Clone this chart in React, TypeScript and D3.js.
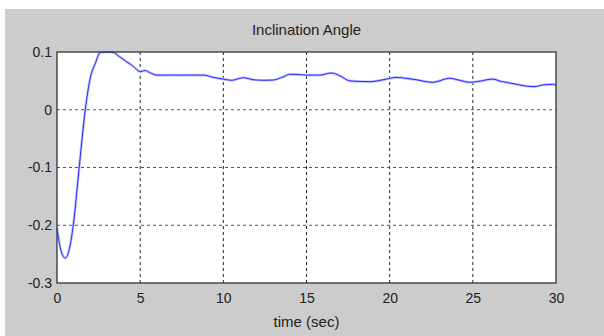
import React, { useEffect, useRef } from "react";
import * as d3 from "d3";

// time axis (sec) and angle readings
const timeSec = [0, 0.25, 0.5, 0.75, 1.0, 1.3, 1.7, 2.0, 2.3, 2.6, 3.0, 3.3, 3.8, 4.2, 4.6, 5.0, 5.3, 5.6, 6.0, 7.0, 8.0, 8.8, 9.4, 10.0, 10.5, 11.2, 11.8, 12.4, 13.0, 13.6, 14.0, 14.5, 15.0, 15.8, 16.5, 17.0, 17.6, 18.2, 18.8, 19.8, 20.4, 21.0, 21.6, 22.2, 22.6, 23.6, 24.2, 24.8, 25.3, 26.2, 26.7, 27.3, 28.2, 28.7, 29.2, 29.8, 30];
const angle = [-0.205, -0.245, -0.257, -0.24, -0.195, -0.11, 0.0, 0.055, 0.08, 0.099, 0.1, 0.1, 0.091, 0.083, 0.075, 0.066, 0.068, 0.064, 0.06, 0.06, 0.06, 0.06, 0.056, 0.053, 0.051, 0.0555, 0.052, 0.051, 0.0515, 0.057, 0.0614, 0.061, 0.06, 0.06, 0.0636, 0.059, 0.05, 0.049, 0.0486, 0.053, 0.056, 0.0544, 0.052, 0.0486, 0.0475, 0.0545, 0.051, 0.0475, 0.049, 0.053, 0.049, 0.046, 0.041, 0.04, 0.043, 0.044, 0.043];

const xTicks = [0, 5, 10, 15, 20, 25, 30];
const yTicks = [0.1, 0, -0.1, -0.2, -0.3];

const title = "Inclination Angle";
const xLabel = "time (sec)";

function App() {
  const ref = useRef<SVGSVGElement>(null);

  useEffect(() => {
    const width = 604;
    const height = 336;
    const plot = { left: 57, top: 52, right: 556, bottom: 283 };
    const font = "'Liberation Sans', Arial, sans-serif";

    const svg = d3.select(ref.current);
    svg.selectAll("*").remove();

    // grey figure background
    svg.append("rect")
      .attr("x", 5).attr("y", 9)
      .attr("width", width - 5).attr("height", height - 9)
      .attr("fill", "#cccccc");

    const xScale = d3.scaleLinear().domain([0, 30]).range([plot.left, plot.right]);
    const yScale = d3.scaleLinear().domain([-0.3, 0.1]).range([plot.bottom, plot.top]);

    svg.append("rect")
      .attr("x", plot.left).attr("y", plot.top)
      .attr("width", plot.right - plot.left).attr("height", plot.bottom - plot.top)
      .attr("fill", "#ffffff");

    // dotted grid
    const grid = svg.append("g")
      .attr("stroke", "#222")
      .attr("stroke-width", 1)
      .attr("stroke-dasharray", "3,3");
    grid.selectAll("line.vx")
      .data(xTicks.slice(1, -1))
      .join("line")
      .attr("class", "vx")
      .attr("x1", d => xScale(d)).attr("x2", d => xScale(d))
      .attr("y1", plot.top).attr("y2", plot.bottom);
    grid.selectAll("line.hy")
      .data(yTicks.slice(1, -1))
      .join("line")
      .attr("class", "hy")
      .attr("stroke", "#555")
      .attr("x1", plot.left).attr("x2", plot.right)
      .attr("y1", d => yScale(d)).attr("y2", d => yScale(d));

    // the curve
    const points = timeSec.map((t, i) => [t, angle[i]] as [number, number]);
    const line = d3.line<[number, number]>()
      .x(d => xScale(d[0]))
      .y(d => yScale(d[1]))
      .curve(d3.curveMonotoneX);

    svg.append("path")
      .datum(points)
      .attr("d", line)
      .attr("fill", "none")
      .attr("stroke", "#c0c0ff")
      .attr("stroke-width", 2.6)
      .attr("stroke-linejoin", "round");
    svg.append("path")
      .datum(points)
      .attr("d", line)
      .attr("fill", "none")
      .attr("stroke", "#2a2aff")
      .attr("stroke-width", 1)
      .attr("stroke-linejoin", "round");

    // box
    svg.append("rect")
      .attr("x", plot.left).attr("y", plot.top)
      .attr("width", plot.right - plot.left).attr("height", plot.bottom - plot.top)
      .attr("fill", "none")
      .attr("stroke", "#333")
      .attr("stroke-width", 1.3);

    // axes: labels only, grid does the rest
    const xAxis = d3.axisBottom(xScale).tickValues(xTicks).tickSize(0).tickPadding(10).tickFormat(d => String(d));
    const gx = svg.append("g").attr("transform", `translate(0, ${plot.bottom})`).call(xAxis);
    const yAxis = d3.axisLeft(yScale).tickValues(yTicks).tickSize(0).tickPadding(5).tickFormat(d => String(d));
    const gy = svg.append("g").attr("transform", `translate(${plot.left}, 0)`).call(yAxis);
    [gx, gy].forEach(g => {
      g.select(".domain").remove();
      g.selectAll("text")
        .attr("font-family", font)
        .attr("font-size", 14)
        .attr("fill", "#222");
    });

    svg.append("text")
      .attr("x", (plot.left + plot.right) / 2)
      .attr("y", 35)
      .attr("text-anchor", "middle")
      .attr("font-family", font)
      .attr("font-size", 15)
      .attr("fill", "#222")
      .text(title);

    svg.append("text")
      .attr("x", (plot.left + plot.right) / 2)
      .attr("y", 327)
      .attr("text-anchor", "middle")
      .attr("font-family", font)
      .attr("font-size", 15)
      .attr("fill", "#222")
      .text(xLabel);
  }, []);

  return (
    <svg
      ref={ref}
      width={604}
      height={336}
      style={{ position: "absolute", left: 0, top: 0, display: "block" }}
    />
  );
}

export default App;
